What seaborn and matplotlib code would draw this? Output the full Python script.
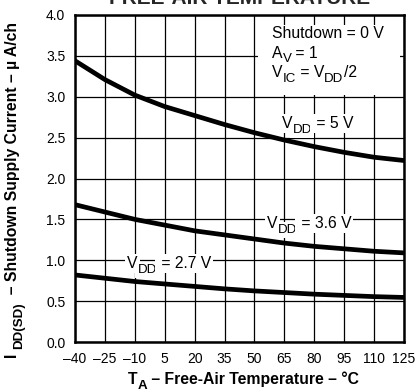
import matplotlib
matplotlib.use("Agg")
import matplotlib.pyplot as plt
from matplotlib.patches import Rectangle
import seaborn as sns
import pandas as pd

# Free-air temperature (°C) and shutdown supply current (µA/ch) per supply voltage
temperature = [-40, -25, -10, 5, 20, 35, 50, 65, 80, 95, 110, 125]
idd_5v0 = [3.44, 3.21, 3.02, 2.88, 2.77, 2.66, 2.56, 2.47, 2.39, 2.32, 2.26, 2.22]
idd_3v6 = [1.68, 1.59, 1.50, 1.43, 1.36, 1.31, 1.26, 1.21, 1.17, 1.14, 1.11, 1.09]
idd_2v7 = [0.82, 0.78, 0.74, 0.71, 0.68, 0.65, 0.625, 0.605, 0.585, 0.57, 0.555, 0.545]

supply_names = ["5 V", "3.6 V", "2.7 V"]
x_ticks = list(range(-40, 126, 15))
y_ticks = [0.0, 0.5, 1.0, 1.5, 2.0, 2.5, 3.0, 3.5, 4.0]

sns.set_theme(style="white")
plt.rcParams["font.family"] = ["Liberation Sans", "DejaVu Sans"]

FS = 11.3        # annotation / axis-label size
SUB = 0.85       # subscript scale
SHIFT = 3.5      # subscript drop, points


def rich_text(ax, x, y, pieces, size=FS, weight="normal", rotation=0,
              transform=None, bg=None):
    """Draw text made of (string, is_subscript) pieces, starting at (x, y) on the baseline."""
    kw = dict(fontweight=weight, color="black", zorder=5, rotation=rotation,
              rotation_mode="anchor")
    if bg:
        kw["bbox"] = dict(facecolor=bg, edgecolor="none", pad=1.5)
    prev = None
    prev_sub = False
    for s, sub in pieces:
        fs = size * SUB if sub else size
        if prev is None:
            prev = ax.text(x, y, s, fontsize=fs, ha="left", va="baseline",
                           transform=transform or ax.transData, **kw)
        else:
            shift = (-SHIFT if sub else 0) + (SHIFT if prev_sub else 0)
            if rotation == 90:
                xy, off = (1, 1), (-shift, 0)
            else:
                xy, off = (1, 0), (0, shift)
            prev = ax.annotate(s, xy=xy, xycoords=prev, xytext=off,
                               textcoords="offset points", fontsize=fs,
                               ha="left", va="bottom", annotation_clip=False, **kw)
        prev_sub = sub
    return prev


df = pd.DataFrame({
    "T": temperature * 3,
    "I": idd_5v0 + idd_3v6 + idd_2v7,
    "VDD": [supply_names[0]] * 12 + [supply_names[1]] * 12 + [supply_names[2]] * 12,
})

fig = plt.figure(figsize=(4.17, 3.92), dpi=100)
ax = fig.add_axes([75 / 417, 1 - 342 / 392, (404 - 75) / 417, (342 - 15) / 392])

sns.lineplot(data=df, x="T", y="I", units="VDD", estimator=None, color="black",
             linewidth=3.4, legend=False, ax=ax, zorder=3)
ax.set_xlabel("")
ax.set_ylabel("")

ax.set_xlim(-40, 125)
ax.set_ylim(0, 4)
ax.set_xticks(x_ticks)
ax.set_yticks(y_ticks)
ax.set_xticklabels([str(t).replace("-", "\u2013") for t in x_ticks])
ax.set_yticklabels([f"{v:.1f}" for v in y_ticks])
ax.grid(True, color="black", linewidth=0.9)
ax.set_axisbelow(True)

# Curve labels (left edge, baseline) in data units
label_anchor = [(63.8, 2.62), (56.3, 1.395), (-13.9, 0.905)]
for name, (tx, ty) in zip(supply_names, label_anchor):
    rich_text(ax, tx, ty, [("V", False), ("DD", True), (f" = {name}", False)], bg="white")

# Test-condition note on a white panel
ax.add_patch(Rectangle((0.556, 0.755), 0.432, 0.214, transform=ax.transAxes,
                       facecolor="white", edgecolor="none", zorder=4))
note_x = 58.8
rich_text(ax, note_x, 3.72, [("Shutdown = 0 V", False)])
rich_text(ax, note_x, 3.48, [("A", False), ("V", True), (" = 1", False)])
rich_text(ax, note_x, 3.24, [("V", False), ("IC", True), (" = V", False), ("DD", True), ("/2", False)])

for side, s in ax.spines.items():
    s.set_visible(True)
    s.set_color("black")
    s.set_linewidth(1.8)

ax.tick_params(axis="both", length=0, labelsize=10, colors="black", pad=7)

ax.set_title("FREE-AIR TEMPERATURE", fontsize=15, fontweight="bold", pad=8)

# Axis titles with full-height subscripts
rich_text(ax, (128 - 75) / 329, -(384 - 342) / 327,
          [("T", False), ("A", True), (" \u2013 Free-Air Temperature \u2013 \u00b0C", False)],
          weight="bold", transform=ax.transAxes)
rich_text(ax, (17 - 75) / 329, (342 - 358) / 327,
          [("I ", False), ("DD(SD)", True),
           ("  \u2013 Shutdown Supply Current \u2013 \u00b5 A/ch", False)],
          weight="bold", rotation=90, transform=ax.transAxes)

fig.savefig("out.png", dpi=100)
